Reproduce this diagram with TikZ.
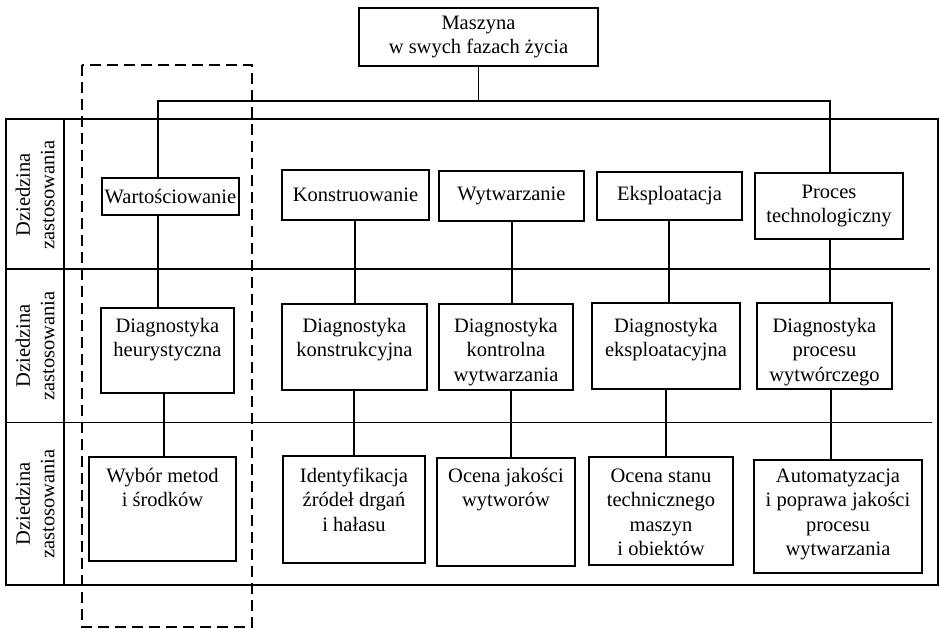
\documentclass[tikz,border=0pt]{standalone}
\usepackage{fontspec}
\setmainfont{Liberation Serif}
% box whose text hangs from the top edge: width, height, first-baseline offset, text
\newcommand\hangtext[4]{\parbox[t][#2pt][t]{#1pt}{\centering\rule{0pt}{#3pt}#4}}
\begin{document}
\begin{tikzpicture}[x=1pt,y=-1pt,
  every node/.style={font=\fontsize{20.5}{24.5}\selectfont},
  cell/.style={draw, line width=2pt, inner sep=0pt, anchor=north west},
  mid/.style={cell, align=center},
  grid/.style={line width=1.7pt},
  link/.style={line width=1.9pt},
  frame/.style={line width=1.8pt, dash pattern=on 11pt off 6pt},
  side/.style={rotate=90, align=center, inner sep=0pt}]
\useasboundingbox (0,0) rectangle (940,629);

% table of application domains
\draw[grid] (6,119) rectangle (938,585);
\draw[grid] (64,119) -- (64,585);
\draw[grid] (6,269) -- (930,269);
\draw[grid] (6,422.5) -- (932,422.5);
\node[side] (lab1) at (35,195) {Dziedzina\\zastosowania};
\node[side] (lab2) at (35,346) {Dziedzina\\zastosowania};
\node[side] (lab3) at (35,504) {Dziedzina\\zastosowania};

% root
\node[mid, minimum width=239pt, minimum height=58pt] (top) at (358,7)
  {Maszyna\\w swych fazach życia};

% first row
\node[mid, minimum width=137pt, minimum height=37pt] (wart) at (101,177) {Wartościowanie};
\node[mid, minimum width=147pt, minimum height=50pt] (kons) at (281,169) {Konstruowanie};
\node[mid, minimum width=145pt, minimum height=50pt] (wytw) at (438,170) {Wytwarzanie};
\node[mid, minimum width=145pt, minimum height=48pt] (eksp) at (596,171) {Eksploatacja};
\node[mid, minimum width=148pt, minimum height=66pt] (proc) at (754,172) {Proces\\technologiczny};

% second row
\node[cell] (heur) at (100,307) {\hangtext{133}{85}{24}{Diagnostyka\\heurystyczna}};
\node[cell] (dkon) at (281,303) {\hangtext{145}{86}{28}{Diagnostyka\\konstrukcyjna}};
\node[cell] (dkw)  at (438,303) {\hangtext{134}{86}{28}{Diagnostyka\\kontrolna\\wytwarzania}};
\node[cell] (deks) at (591,302) {\hangtext{148}{86}{29}{Diagnostyka\\eksploatacyjna}};
\node[cell] (dproc) at (756,302) {\hangtext{135}{86}{29}{Diagnostyka\\procesu\\wytwórczego}};

% third row
\node[cell] (wyb)  at (88,456)  {\hangtext{147}{104}{25}{Wybór metod\\i środków}};
\node[cell] (iden) at (282,455) {\hangtext{142}{107}{26}{Identyfikacja\\źródeł drgań\\i hałasu}};
\node[cell] (ocj)  at (436,457) {\hangtext{138}{108}{24}{Ocena jakości\\wytworów}};
\node[cell] (ocs)  at (588,456) {\hangtext{144}{108}{25}{Ocena stanu\\technicznego\\maszyn\\i obiektów}};
\node[cell] (auto) at (753,459) {\hangtext{168}{113}{22}{Automatyzacja\\i poprawa jakości\\procesu\\wytwarzania}};

% column stems
\coordinate (busW) at (158,101);
\coordinate (busE) at (830,101);
\coordinate (a1) at (158,0);
\coordinate (a2) at (355,0);
\coordinate (a3) at (512,0);
\coordinate (a4) at (669,0);
\coordinate (a5) at (830,0);
\coordinate (b1) at (164,0);
\coordinate (b2) at (354,0);
\coordinate (b3) at (511,0);
\coordinate (b4) at (666,0);
\coordinate (b5) at (831,0);

% connectors
\draw[link] (top.south) -- (top.south |- busW);
\draw[link] (wart.north -| busW) -- (busW) -- (busE) -- (proc.north -| busE);
\draw[link] (wart.south -| a1) -- (heur.north -| a1);
\draw[link] (kons.south -| a2) -- (dkon.north -| a2);
\draw[link] (wytw.south -| a3) -- (dkw.north -| a3);
\draw[link] (eksp.south -| a4) -- (deks.north -| a4);
\draw[link] (proc.south -| a5) -- (dproc.north -| a5);
\draw[link] (heur.south -| b1) -- (wyb.north -| b1);
\draw[link] (dkon.south -| b2) -- (iden.north -| b2);
\draw[link] (dkw.south -| b3) -- (ocj.north -| b3);
\draw[link] (deks.south -| b4) -- (ocs.north -| b4);
\draw[link] (dproc.south -| b5) -- (auto.north -| b5);

% dashed frame around the evaluation column
\draw[frame] (82,65) rectangle (252,627);
\end{tikzpicture}
\end{document}
